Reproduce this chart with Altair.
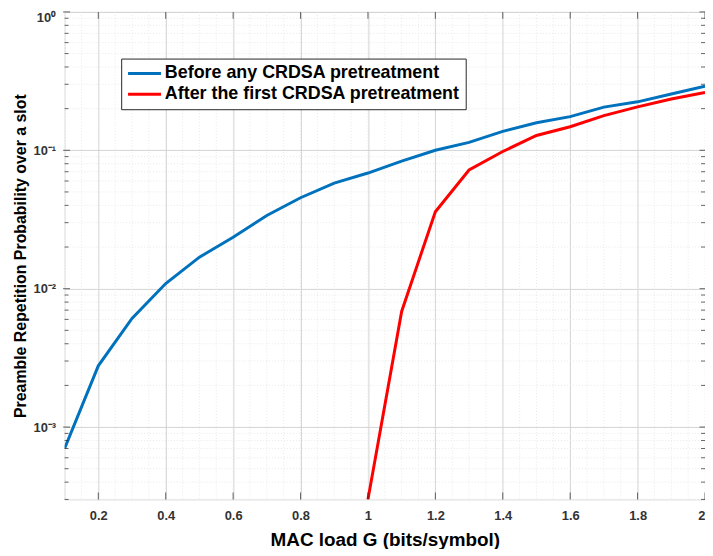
import altair as alt
import pandas as pd

# ---- data ----
load_g = [0.1, 0.2, 0.3, 0.4, 0.5, 0.6, 0.7, 0.8, 0.9, 1.0,
          1.1, 1.2, 1.3, 1.4, 1.5, 1.6, 1.7, 1.8, 1.9, 2.0]
before = [7.0e-4, 2.77e-3, 6.1e-3, 0.0109, 0.0169, 0.0235, 0.0338, 0.0454, 0.058, 0.0685,
          0.0834, 0.100, 0.114, 0.137, 0.158, 0.175, 0.205, 0.224, 0.255, 0.291]
after_g = [1.0, 1.1, 1.2, 1.3, 1.4, 1.5, 1.6, 1.7, 1.8, 1.9, 2.0]
after = [3.0e-4, 6.85e-3, 0.036, 0.072, 0.098, 0.128, 0.148, 0.178, 0.206, 0.235, 0.262]

series_names = ["Before any CRDSA pretreatment", "After the first CRDSA pretreatment"]
series_colors = ["#0072BD", "#FF0000"]

x_major = [0.2, 0.4, 0.6, 0.8, 1.0, 1.2, 1.4, 1.6, 1.8, 2.0]
x_minor = [round(0.1 + 0.05 * i, 2) for i in range(39)]
y_major = [1e-3, 1e-2, 1e-1, 1.0]
y_minor = [m * 10.0 ** e for e in (-4, -3, -2, -1) for m in range(2, 10)]
y_minor = [v for v in y_minor if 3e-4 <= v <= 1.0]

W, H = 645, 491
FONT = "Liberation Sans"
TXT = "#262626"

rows = []
for g, v in zip(load_g, before):
    rows.append({"G": g, "P": v, "series": series_names[0]})
for g, v in zip(after_g, after):
    rows.append({"G": g, "P": v, "series": series_names[1]})
df = pd.DataFrame(rows)

xs = alt.Scale(domain=[0.1, 2.0], nice=False, zero=False)
ys = alt.Scale(type="log", domain=[3e-4, 1.0], nice=False)

XTITLE = "MAC load G (bits/symbol)"
YTITLE = "Preamble Repetition Probability over a slot"
common = dict(labelFont=FONT, labelFontSize=13, labelFontWeight="bold", labelColor="#333333",
              titleFont=FONT, titleFontWeight="bold", titleColor="#000000",
              domain=False, ticks=False, grid=True, gridColor="#d4d4d4")
xaxis = alt.Axis(values=x_major, format="~g", labelPadding=10, titlePadding=8,
                 titleFontSize=19, labelFlush=True, **common)
yaxis = alt.Axis(values=y_major,
                 labelExpr="['10⁻³','10⁻²','10⁻¹','10⁰'][round(log(datum.value)/LN10)+3]",
                 labelPadding=9, titlePadding=5, titleFontSize=16, labelFlush=True, **common)


def X(field="G"):
    return alt.X(f"{field}:Q", scale=xs, title=XTITLE, axis=xaxis)


def Y(field="P"):
    return alt.Y(f"{field}:Q", scale=ys, title=YTITLE, axis=yaxis)


# minor grid lines
xminor = alt.Chart(pd.DataFrame({"G": x_minor})).mark_rule(
    color="#e3e3e3", strokeWidth=0.8, strokeDash=[1, 2]
).encode(x=X())
yminor = alt.Chart(pd.DataFrame({"P": y_minor})).mark_rule(
    color="#e3e3e3", strokeWidth=0.8, strokeDash=[1, 2]
).encode(y=Y())

# inward-pointing ticks (MATLAB style)
xt = pd.DataFrame({"G": x_major})
xtick_b = alt.Chart(xt).mark_tick(color=TXT, size=7, thickness=1, orient="vertical").encode(
    x=X(), y=alt.value(H - 3.5))
xtick_t = alt.Chart(xt).mark_tick(color=TXT, size=7, thickness=1, orient="vertical").encode(
    x=X(), y=alt.value(3.5))
yt_all = pd.DataFrame({"P": y_major + y_minor, "s": [7] * len(y_major) + [4] * len(y_minor)})
ytick_l = alt.Chart(yt_all).mark_tick(color=TXT, thickness=1, orient="horizontal").encode(
    y=Y(), x=alt.value(2), size=alt.Size("s:Q", scale=None, legend=None))
ytick_r = alt.Chart(yt_all).mark_tick(color=TXT, thickness=1, orient="horizontal").encode(
    y=Y(), x=alt.value(W - 2), size=alt.Size("s:Q", scale=None, legend=None))

lines = alt.Chart(df).mark_line(strokeWidth=3, clip=True).encode(
    x=X(),
    y=Y(),
    color=alt.Color("series:N",
                    scale=alt.Scale(domain=series_names, range=series_colors),
                    sort=series_names,
                    legend=alt.Legend(title=None, orient="none", legendX=57, legendY=47,
                                      symbolType="stroke", symbolStrokeWidth=3, symbolSize=1100,
                                      clipHeight=20,
                                      labelFontSize=18, labelFont=FONT, labelFontWeight="bold",
                                      labelColor="#000000", strokeColor="#262626", fillColor="white",
                                      padding=5, rowPadding=1, labelOffset=2, labelLimit=400)),
    order=alt.Order("series:N"),
)

chart = alt.layer(xminor, yminor, lines, xtick_b, xtick_t, ytick_l, ytick_r).properties(
    width=W, height=H,
    autosize=alt.AutoSizeParams(type="none"),
    padding={"left": 57, "top": 2, "right": 0, "bottom": 48},
).configure_view(
    stroke=TXT, strokeWidth=1
).configure(background="white")

chart.save("out.html", embed_options={"renderer": "svg", "actions": False})
